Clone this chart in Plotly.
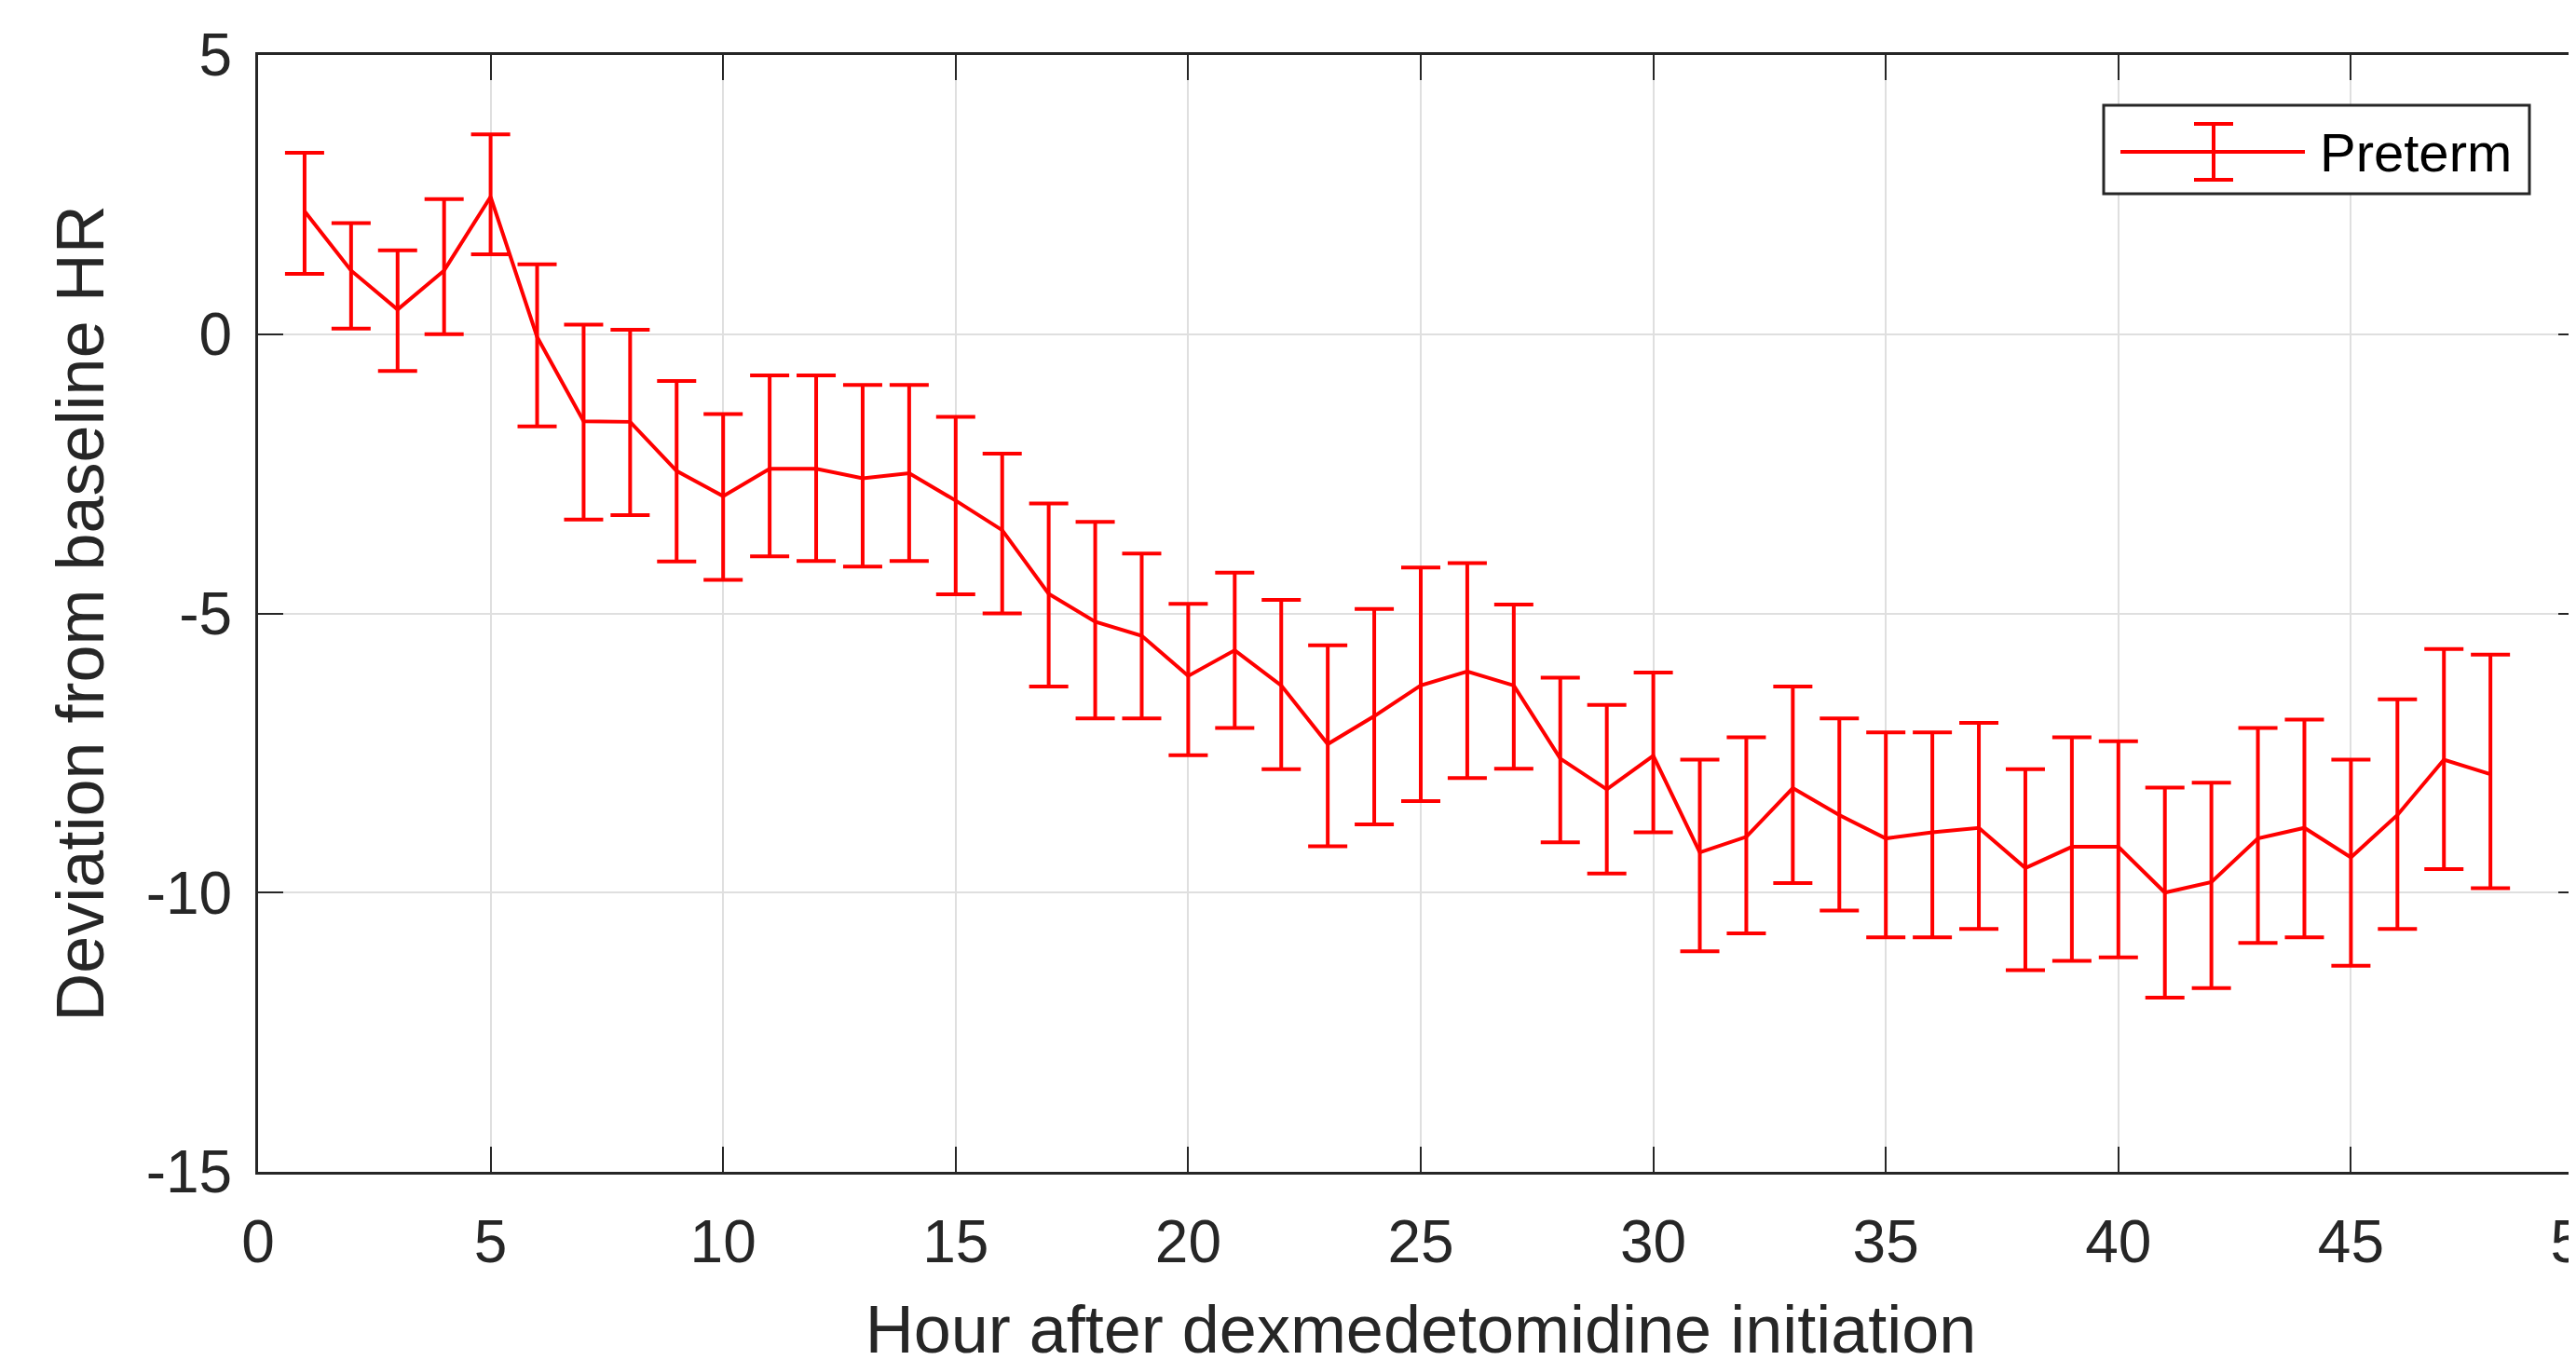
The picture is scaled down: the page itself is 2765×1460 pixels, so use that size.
import plotly.graph_objects as go

# ---------------- data ----------------
hours = list(range(1, 49))
mean_dev = [2.20, 1.14, 0.44, 1.14, 2.46, -0.05, -1.56, -1.57, -2.45, -2.90,
            -2.41, -2.41, -2.58, -2.49, -2.98, -3.51, -4.65, -5.15, -5.40, -6.12,
            -5.66, -6.29, -7.34, -6.84, -6.29, -6.04, -6.29, -7.60, -8.15, -7.55,
            -9.28, -9.00, -8.13, -8.61, -9.03, -8.92, -8.84, -9.56, -9.18, -9.18,
            -10.00, -9.81, -9.03, -8.84, -9.37, -8.61, -7.62, -7.88]
err_plus = [1.05, 0.85, 1.06, 1.28, 1.12, 1.30, 1.73, 1.65, 1.61, 1.47,
            1.67, 1.67, 1.67, 1.58, 1.50, 1.37, 1.62, 1.79, 1.47, 1.29,
            1.39, 1.53, 1.77, 1.92, 2.11, 1.94, 1.45, 1.45, 1.51, 1.49,
            1.66, 1.78, 1.82, 1.73, 1.90, 1.79, 1.88, 1.77, 1.96, 1.89,
            1.88, 1.78, 1.98, 1.94, 1.75, 2.07, 1.98, 2.14]
err_minus = [1.12, 1.04, 1.10, 1.14, 1.03, 1.60, 1.76, 1.67, 1.62, 1.50,
             1.57, 1.65, 1.58, 1.57, 1.68, 1.49, 1.66, 1.73, 1.48, 1.42,
             1.39, 1.50, 1.83, 1.94, 2.07, 1.91, 1.49, 1.50, 1.51, 1.37,
             1.77, 1.73, 1.70, 1.71, 1.77, 1.88, 1.81, 1.83, 2.04, 1.98,
             1.88, 1.90, 1.87, 1.96, 1.94, 2.04, 1.96, 2.04]
series_name = "Preterm"
x_ticks = [0, 5, 10, 15, 20, 25, 30, 35, 40, 45, 50]
y_ticks = [-15, -10, -5, 0, 5]
x_title = "Hour after dexmedetomidine initiation"
y_title = "Deviation from baseline HR"

# ---------------- layout constants ----------------
OFF = 8                      # page body margin in the browser
W, H = 2765, 1460
L, R, T, B = 269, 0, 51, 210
PW, PH = W - L - R, H - T - B
RED = "#ff0000"
AX = "#262626"
GRID = "#dfdfdf"
FONT = "Liberation Sans"
LW = 4


def px(xs):
    """screen x pixel -> paper fraction"""
    return (xs - OFF - L) / PW


def py(ys):
    """screen y pixel -> paper fraction"""
    return (T + PH - (ys - OFF)) / PH


fig = go.Figure()
fig.add_trace(go.Scatter(
    x=hours, y=mean_dev, mode="lines", name=series_name, showlegend=False,
    line=dict(color=RED, width=LW),
    error_y=dict(type="data", symmetric=False, array=err_plus, arrayminus=err_minus,
                 color=RED, thickness=LW, width=21),
))

axis_common = dict(
    ticks="inside", ticklen=27, tickwidth=2, tickcolor=AX,
    showline=True, linecolor=AX, linewidth=3, mirror="ticks",
    showgrid=True, gridcolor=GRID, gridwidth=2, zeroline=False,
    tickfont=dict(family=FONT, size=64, color=AX),
)

fig.update_xaxes(range=[0, 50], tickvals=x_ticks, ticktext=[str(t) for t in x_ticks],
                 ticklabeloverflow="allow",
                 title=dict(text=x_title, font=dict(family=FONT, size=72, color=AX), standoff=34),
                 ticklabelstandoff=17,
                 **axis_common)
fig.update_yaxes(range=[-15, 5], tickvals=y_ticks, ticktext=[str(t) for t in y_ticks],
                 title=dict(text=y_title, font=dict(family=FONT, size=72, color=AX), standoff=22),
                 ticklabelstandoff=12,
                 **axis_common)

# ---------------- legend (line + error bar symbol, MATLAB style) ----------------
shapes = [
    dict(type="rect", xref="paper", yref="paper", x0=px(2258), x1=px(2715), y0=py(208), y1=py(113),
         line=dict(color=AX, width=3), fillcolor="white", layer="above"),
    dict(type="line", xref="paper", yref="paper", x0=px(2276), x1=px(2474), y0=py(163), y1=py(163),
         line=dict(color=RED, width=LW), layer="above"),
    dict(type="line", xref="paper", yref="paper", x0=px(2376), x1=px(2376), y0=py(133), y1=py(193),
         line=dict(color=RED, width=LW), layer="above"),
    dict(type="line", xref="paper", yref="paper", x0=px(2355), x1=px(2397), y0=py(133), y1=py(133),
         line=dict(color=RED, width=LW), layer="above"),
    dict(type="line", xref="paper", yref="paper", x0=px(2355), x1=px(2397), y0=py(193), y1=py(193),
         line=dict(color=RED, width=LW), layer="above"),
]
annotations = [dict(x=px(2488), y=py(163), xref="paper", yref="paper", text=series_name,
                    showarrow=False, xanchor="left", yanchor="middle",
                    font=dict(family=FONT, size=58, color="#000000"))]

fig.update_layout(
    width=W, height=H,
    margin=dict(l=L, r=R, t=T, b=B, autoexpand=False),
    paper_bgcolor="white", plot_bgcolor="white",
    shapes=shapes, annotations=annotations,
    showlegend=False,
)

fig.write_html("out.html")
